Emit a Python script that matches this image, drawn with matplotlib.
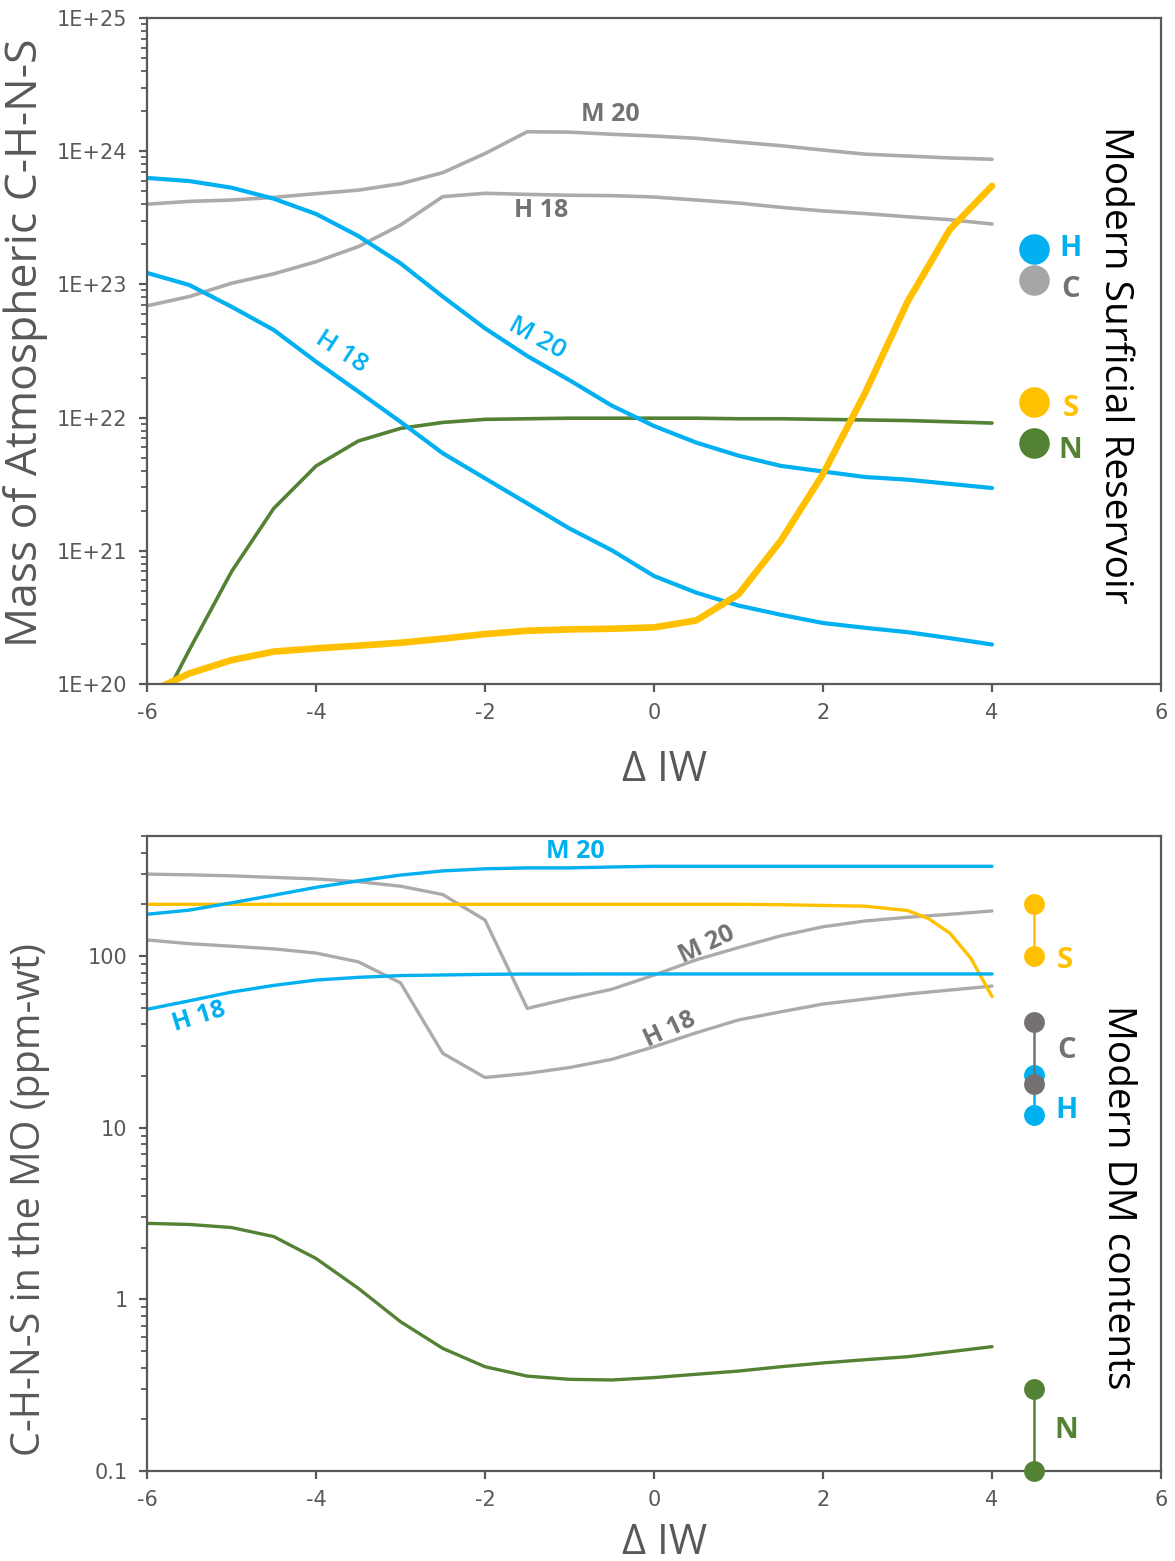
import numpy as np
import matplotlib
matplotlib.use("Agg")
import matplotlib.pyplot as plt
from matplotlib.ticker import LogLocator, FixedLocator, NullFormatter, FixedFormatter

# couleurs (palette Excel)
BLUE = "#00B0F0"
GRAY = "#AEAAAA"
DGRAY = "#767171"
YELLOW = "#FFC000"
GREEN = "#548235"
AXC = "#595959"

LABEL_FONT = ["Open Sans", "DejaVu Sans"]
TICK_FONT = ["Liberation Sans Narrow", "DejaVu Sans"]

# Delta IW
dIW = [-6, -5.5, -5, -4.5, -4, -3.5, -3, -2.5, -2, -1.5, -1,
       -0.5, 0, 0.5, 1, 1.5, 2, 2.5, 3, 3.5, 4]

# --- masse atmospherique (kg) ---
atm_C_M20 = [4.0e23, 4.2e23, 4.3e23, 4.5e23, 4.8e23, 5.1e23, 5.7e23, 6.9e23, 9.6e23, 1.40e24, 1.39e24,
             1.34e24, 1.30e24, 1.25e24, 1.17e24, 1.10e24, 1.02e24, 9.5e23, 9.2e23, 8.9e23, 8.7e23]
atm_C_H18 = [6.9e22, 8.1e22, 1.02e23, 1.20e23, 1.48e23, 1.92e23, 2.79e23, 4.56e23, 4.83e23, 4.74e23, 4.67e23,
             4.64e23, 4.53e23, 4.30e23, 4.08e23, 3.79e23, 3.56e23, 3.40e23, 3.22e23, 3.06e23, 2.84e23]
atm_H_M20 = [6.3e23, 5.97e23, 5.32e23, 4.40e23, 3.38e23, 2.31e23, 1.44e23, 8.1e22, 4.68e22, 2.90e22, 1.91e22,
             1.23e22, 8.65e21, 6.49e21, 5.18e21, 4.34e21, 3.94e21, 3.58e21, 3.42e21, 3.18e21, 2.96e21]
atm_H_H18 = [1.22e23, 9.9e22, 6.8e22, 4.55e22, 2.63e22, 1.57e22, 9.3e21, 5.4e21, 3.50e21, 2.27e21, 1.47e21,
             1.01e21, 6.47e20, 4.85e20, 3.88e20, 3.31e20, 2.87e20, 2.64e20, 2.45e20, 2.21e20, 1.98e20]
atm_N = [4.4e19, 1.80e20, 6.97e20, 2.08e21, 4.33e21, 6.67e21, 8.3e21, 9.2e21, 9.7e21, 9.8e21, 9.9e21,
         9.9e21, 9.9e21, 9.9e21, 9.8e21, 9.8e21, 9.7e21, 9.6e21, 9.5e21, 9.3e21, 9.1e21]
atm_S = [8.5e19, 1.2e20, 1.51e20, 1.75e20, 1.85e20, 1.94e20, 2.04e20, 2.19e20, 2.37e20, 2.51e20, 2.57e20,
         2.60e20, 2.66e20, 3.00e20, 4.71e20, 1.19e21, 3.77e21, 1.54e22, 7.4e22, 2.58e23, 5.49e23]

# reservoir de surface moderne
surf_x = 4.5
surf_H, surf_C, surf_S, surf_N = 1.85e23, 1.08e23, 1.31e22, 6.5e21

# --- teneurs dans l'ocean magmatique (ppm-wt) ---
mo_H_M20 = [175, 185, 204, 226, 251, 274, 296, 313, 322, 326, 326,
            330, 333, 333, 333, 333, 333, 333, 333, 333, 333]
mo_H_H18 = [48.9, 54.8, 61.6, 67.4, 72.4, 75.1, 76.9, 77.5, 78.2, 78.5, 78.5,
            78.6, 78.6, 78.6, 78.6, 78.6, 78.6, 78.6, 78.6, 78.6, 78.6]
mo_C_M20 = [300, 297, 293, 287, 281, 271, 255, 228, 162, 49.5, 56.6,
            64, 77.4, 95, 112, 131, 148, 160, 168, 175, 183]
mo_C_H18 = [124, 118, 114, 110, 104, 92.5, 69.8, 27.1, 19.6, 20.7, 22.4,
            25.0, 29.6, 35.7, 42.4, 47.3, 52.5, 56.1, 60.0, 63.3, 66.8]
mo_N = [2.77, 2.73, 2.62, 2.32, 1.73, 1.16, 0.741, 0.518, 0.405, 0.357, 0.342,
        0.339, 0.350, 0.366, 0.382, 0.405, 0.426, 0.445, 0.463, 0.495, 0.530]
dIW_S = [-6, -5.5, -5, -4.5, -4, -3.5, -3, -2.5, -2, -1.5, -1,
         -0.5, 0, 0.5, 1, 1.5, 2, 2.5, 3, 3.25, 3.5, 3.75, 4]
mo_S = [200, 200, 200, 200, 200, 200, 200, 200, 200, 200, 200,
        200, 200, 200, 200, 199, 197, 195, 184, 165, 136, 97, 58]

# contenus du manteau appauvri moderne (min / max)
dm_x = 4.5
dm_S = [200, 100]
dm_C = [41.4, 17.9]
dm_H = [20.2, 11.8]
dm_N = [0.3, 0.1]

top_yticks = [1e20, 1e21, 1e22, 1e23, 1e24, 1e25]
top_yticklabels = ["1E+20", "1E+21", "1E+22", "1E+23", "1E+24", "1E+25"]
bot_yticks = [0.1, 1, 10, 100]
bot_yticklabels = ["0.1", "1", "10", "100"]
xticks = [-6, -4, -2, 0, 2, 4, 6]

W, H = 1175, 1561
fig = plt.figure(figsize=(W / 100, H / 100), dpi=100)


def px_axes(left, top, right, bottom):
    return fig.add_axes([left / W, 1 - bottom / H, (right - left) / W, (bottom - top) / H])


def style_axes(ax, yticks, ylabels):
    ax.set_yscale("log")
    ax.set_xlim(-6, 6)
    ax.xaxis.set_major_locator(FixedLocator(xticks))
    ax.set_xticklabels([str(t) for t in xticks])
    ax.yaxis.set_major_locator(FixedLocator(yticks))
    ax.yaxis.set_major_formatter(FixedFormatter(ylabels))
    ax.yaxis.set_minor_locator(LogLocator(base=10, subs=np.arange(2, 10), numticks=20))
    ax.yaxis.set_minor_formatter(NullFormatter())
    for s in ax.spines.values():
        s.set_color(AXC)
        s.set_linewidth(1.6)
    ax.tick_params(axis="both", which="major", direction="out", length=6, width=1.6,
                   color=AXC, labelcolor=AXC, labelsize=15)
    ax.tick_params(axis="y", which="minor", direction="out", length=4, width=1.3, color=AXC)
    ax.tick_params(axis="x", pad=8)
    ax.tick_params(axis="y", pad=8)
    for lab in ax.get_xticklabels() + ax.get_yticklabels():
        lab.set_family(TICK_FONT)


def line(ax, x, y, color, lw):
    ax.plot(x, y, color=color, lw=lw, solid_capstyle="round", solid_joinstyle="round")


bold = dict(family=LABEL_FONT, fontweight="bold", fontsize=18)
semi = dict(family=LABEL_FONT, fontweight="semibold", fontsize=19)
elem = dict(family=LABEL_FONT, fontweight="bold", fontsize=21, ha="center", va="center")

# ---------------- panneau du haut ----------------
ax1 = px_axes(147, 18, 1161, 684)
line(ax1, dIW, atm_C_M20, GRAY, 2.6)
line(ax1, dIW, atm_C_H18, GRAY, 2.6)
line(ax1, dIW, atm_N, GREEN, 2.6)
line(ax1, dIW, atm_H_M20, BLUE, 3.0)
line(ax1, dIW, atm_H_H18, BLUE, 3.0)
line(ax1, dIW, atm_S, YELLOW, 4.8)
ax1.set_ylim(1e20, 1e25)
style_axes(ax1, top_yticks, top_yticklabels)

ax1.plot(surf_x, surf_C, "o", ms=22, color="#A6A6A6", mec="none")
ax1.plot(surf_x, surf_H, "o", ms=22, color=BLUE, mec="none")
ax1.plot(surf_x, surf_S, "o", ms=22, color=YELLOW, mec="none")
ax1.plot(surf_x, surf_N, "o", ms=22, color=GREEN, mec="none")
ax1.text(4.93, 1.85e23, "H", color=BLUE, **elem)
ax1.text(4.93, 9.1e22, "C", color=DGRAY, **elem)
ax1.text(4.93, 1.18e22, "S", color=YELLOW, **elem)
ax1.text(4.93, 5.7e21, "N", color=GREEN, **elem)

ax1.text(-0.52, 1.87e24, "M 20", color=DGRAY, ha="center", va="center", **bold)
ax1.text(-1.33, 3.6e23, "H 18", color=DGRAY, ha="center", va="center", **bold)
ax1.text(-3.70, 3.1e22, "H 18", color=BLUE, ha="center", va="center", rotation=-33,
         rotation_mode="anchor", **semi)
ax1.text(-1.38, 3.96e22, "M 20", color=BLUE, ha="center", va="center", rotation=-29,
         rotation_mode="anchor", **semi)
ax1.text(0.955, 0.479, "Modern Surficial Reservoir", transform=ax1.transAxes, rotation=-90,
         ha="center", va="center", fontsize=28, family=LABEL_FONT, color="black")

# ---------------- panneau du bas ----------------
ax2 = px_axes(147, 836, 1161, 1471)
line(ax2, dIW, mo_C_M20, GRAY, 2.4)
line(ax2, dIW, mo_C_H18, GRAY, 2.4)
line(ax2, dIW, mo_N, GREEN, 2.4)
line(ax2, dIW_S, mo_S, YELLOW, 2.4)
line(ax2, dIW, mo_H_M20, BLUE, 2.4)
line(ax2, dIW, mo_H_H18, BLUE, 2.4)
ax2.set_ylim(0.1, 500)
style_axes(ax2, bot_yticks, bot_yticklabels)

for vals, col in [(dm_S, YELLOW), (dm_H, BLUE), (dm_C, DGRAY), (dm_N, GREEN)]:
    ax2.plot([dm_x, dm_x], vals, "-o", color=col, lw=1.8, ms=15, mec="none", clip_on=False, zorder=5)

ax2.text(4.86, 94.7, "S", color=YELLOW, **elem)
ax2.text(4.88, 28.3, "C", color=DGRAY, **elem)
ax2.text(4.88, 12.6, "H", color=BLUE, **elem)
ax2.text(4.88, 0.173, "N", color=GREEN, **elem)

ax2.text(-0.93, 408, "M 20", color=BLUE, ha="center", va="center", **bold)
ax2.text(-5.38, 44, "H 18", color=BLUE, ha="center", va="center", rotation=17,
         rotation_mode="anchor", **bold)
ax2.text(0.63, 117, "M 20", color=DGRAY, ha="center", va="center", rotation=25,
         rotation_mode="anchor", **bold)
ax2.text(0.19, 37, "H 18", color=DGRAY, ha="center", va="center", rotation=25,
         rotation_mode="anchor", **bold)
ax2.text(0.958, 0.431, "Modern DM contents", transform=ax2.transAxes, rotation=-90,
         ha="center", va="center", fontsize=28, family=LABEL_FONT, color="black")

# titres des axes
fig.text(26 / W, 1 - 343 / H, "Mass of Atmospheric C-H-N-S", rotation=90, ha="center", va="center",
         fontsize=32, family=LABEL_FONT, color=AXC)
fig.text(30 / W, 1 - 1199 / H, "C-H-N-S in the MO (ppm-wt)", rotation=90, ha="center", va="center",
         fontsize=28.5, family=LABEL_FONT, color=AXC)
fig.text(665 / W, 1 - 770 / H, "\u0394 IW", ha="center", va="center",
         fontsize=30, family=LABEL_FONT, color=AXC)
fig.text(665 / W, 1 - 1543 / H, "\u0394 IW", ha="center", va="center",
         fontsize=30, family=LABEL_FONT, color=AXC)

fig.savefig("out.png", dpi=100, facecolor="white")
